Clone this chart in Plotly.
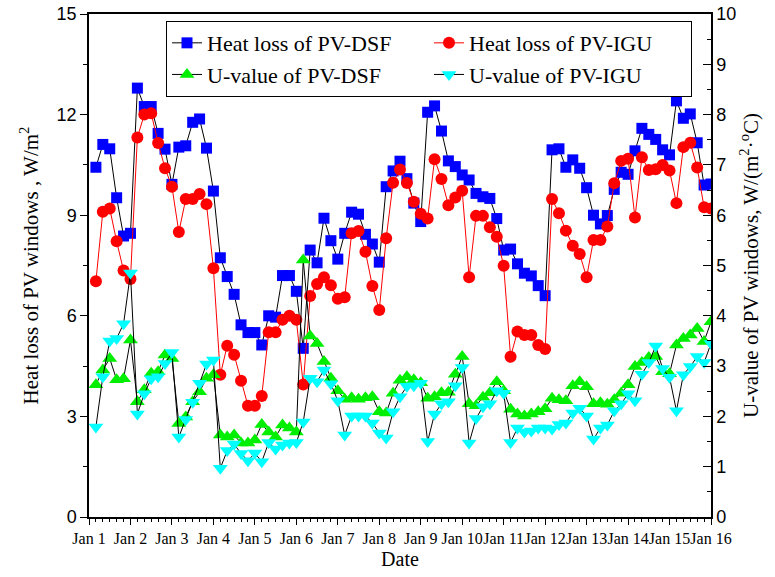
import pandas as pd
import plotly.graph_objects as go

# time stamps: 4-hourly from Jan 1 04:00 to Jan 16 00:00
times = pd.date_range("2000-01-01 04:00", periods=90, freq="4h")

heat_dsf = [10.43, 11.11, 10.98, 9.52, 8.38, 8.46, 12.79, 12.24, 12.24, 11.44,
            10.97, 9.92, 11.03, 11.07, 11.77, 11.87, 11.0, 9.72, 7.73, 7.17,
            6.64, 5.73, 5.50, 5.50, 5.13, 6.0, 5.96, 7.2, 7.2, 6.73,
            5.03, 7.96, 7.58, 8.91, 8.24, 7.69, 8.46, 9.09, 9.03, 8.43,
            8.14, 7.6, 9.85, 10.32, 10.61, 10.09, 9.36, 8.81, 12.07, 12.26,
            11.51, 10.62, 10.45, 10.2, 10.05, 9.65, 9.55, 9.5, 8.9, 7.96,
            7.99, 7.55, 7.27, 7.19, 6.9, 6.6, 10.95, 10.98, 10.43, 10.65,
            10.4, 9.82, 9.0, 8.74, 8.99, 9.77, 10.28, 10.22, 10.92, 11.59,
            11.41, 11.26, 10.95, 10.8, 12.41, 11.89, 12.02, 11.16, 9.9, 9.93]

heat_igu = [7.03, 9.1, 9.2, 8.22, 7.35, 7.1, 11.32, 12.0, 12.04, 11.15,
            10.4, 9.85, 8.5, 9.48, 9.48, 9.63, 9.33, 7.42, 4.24, 5.11,
            4.84, 4.06, 3.32, 3.32, 3.61, 5.51, 5.51, 5.88, 6.0, 5.88,
            3.95, 6.59, 6.95, 7.15, 6.91, 6.51, 6.55, 8.46, 8.53, 7.91,
            6.89, 6.17, 8.31, 9.97, 10.36, 9.96, 9.4, 9.04, 8.9, 10.67,
            10.08, 9.3, 9.53, 9.73, 7.15, 8.98, 8.98, 8.64, 8.36, 7.49,
            4.78, 5.53, 5.43, 5.43, 5.13, 5.01, 9.48, 9.06, 8.54, 8.09,
            7.84, 7.15, 8.26, 8.26, 8.66, 9.95, 10.62, 10.68, 8.93, 10.73,
            10.35, 10.37, 10.5, 10.33, 9.36, 11.03, 11.16, 10.42, 9.24, 9.2]

u_dsf = [2.63, 2.92, 3.15, 2.73, 2.75, 3.52, 2.29, 2.53, 2.86, 2.89,
         3.22, 3.15, 1.86, 1.99, 2.29, 2.49, 2.76, 2.83, 1.63, 1.59,
         1.63, 1.47, 1.47, 1.53, 1.84, 1.69, 1.59, 1.83, 1.77, 1.69,
         5.11, 3.6, 3.45, 3.09, 2.76, 2.51, 2.34, 2.37, 2.34, 2.37,
         2.39, 2.09, 2.07, 2.46, 2.72, 2.79, 2.73, 2.67, 2.36, 2.39,
         2.47, 2.48, 2.84, 3.19, 2.25, 2.21, 2.38, 2.47, 2.69, 2.51,
         2.14, 2.05, 2.01, 2.05, 2.09, 2.15, 2.36, 2.33, 2.31, 2.61,
         2.69, 2.59, 2.25, 2.27, 2.24, 2.33, 2.46, 2.63, 2.99, 3.07,
         3.17, 3.19, 2.89, 2.85, 3.42, 3.55, 3.62, 3.75, 3.49, 3.88]

u_igu = [1.79, 2.79, 3.5, 3.55, 3.84, 4.85, 2.05, 2.45, 2.75, 2.79,
         3.05, 3.27, 1.59, 1.94, 2.28, 2.66, 3.04, 3.12, 0.97, 1.32,
         1.45, 1.26, 1.12, 1.27, 1.1, 1.48, 1.35, 1.43, 1.47, 1.48,
         1.89, 2.76, 2.69, 2.92, 2.65, 2.31, 1.63, 2.01, 2.01, 2.01,
         1.87, 1.67, 1.57, 2.09, 2.39, 2.6, 2.61, 2.66, 1.5, 2.05,
         2.25, 2.29, 2.61, 2.97, 1.47, 1.96, 2.19, 2.25, 2.51, 2.46,
         1.48, 1.77, 1.69, 1.71, 1.77, 1.77, 1.75, 1.84, 1.87, 2.07,
         2.16, 2.01, 1.55, 1.77, 1.83, 2.11, 2.25, 2.45, 2.31, 2.84,
         3.07, 3.4, 2.95, 2.78, 2.11, 2.83, 2.99, 3.19, 3.07, 3.45]

names = ["Heat loss of PV-DSF", "Heat loss of PV-IGU",
         "U-value of PV-DSF", "U-value of PV-IGU"]

serif = "Liberation Serif, Times New Roman, serif"
sans = "Liberation Sans, Arial, sans-serif"

fig = go.Figure()
fig.add_trace(go.Scatter(x=times, y=heat_dsf, name=names[0], mode="lines+markers",
                         line=dict(color="black", width=1),
                         marker=dict(symbol="square", size=11, color="#0000FF", line=dict(width=0))))
fig.add_trace(go.Scatter(x=times, y=heat_igu, name=names[1], mode="lines+markers",
                         line=dict(color="red", width=1),
                         marker=dict(symbol="circle", size=12, color="#FF0000", line=dict(width=0))))
fig.add_trace(go.Scatter(x=times, y=u_dsf, name=names[2], mode="lines+markers", yaxis="y2",
                         line=dict(color="black", width=1),
                         marker=dict(symbol="triangle-up", size=13, color="#00EE00", line=dict(width=0))))
fig.add_trace(go.Scatter(x=times, y=u_igu, name=names[3], mode="lines+markers", yaxis="y2",
                         line=dict(color="black", width=1),
                         marker=dict(symbol="triangle-down", size=13, color="#00FFFF", line=dict(width=0))))

fig.update_layout(
    width=775, height=577,
    margin=dict(l=89, r=64, t=14, b=60, autoexpand=False),
    paper_bgcolor="white", plot_bgcolor="white",
    showlegend=True,
    legend=dict(orientation="h", x=(166 - 89) / 622, y=0.986, xanchor="left", yanchor="top",
                entrywidth=217, entrywidthmode="pixels",
                font=dict(family=serif, size=22, color="black"),
                bordercolor="black", borderwidth=1, bgcolor="white",
                tracegroupgap=0, itemsizing="trace"),
    xaxis=dict(type="date", range=["2000-01-01", "2000-01-16"],
               dtick=86400000, tick0="2000-01-01", tickformat="%b %-d", tickangle=0,
               ticks="outside", ticklen=6, tickwidth=1.2, tickcolor="black",
               minor=dict(dtick=4 * 3600000, ticks="outside", ticklen=3, tickcolor="black"),
               showline=True, linecolor="black", linewidth=1.5, mirror=True,
               showgrid=False, zeroline=False,
               tickfont=dict(family=serif, size=16, color="black"),
               title=dict(text="Date", font=dict(family=serif, size=20, color="black"), standoff=6)),
    yaxis=dict(range=[0, 15], dtick=3, tick0=0,
               ticks="outside", ticklen=7, tickwidth=1.2, tickcolor="black",
               minor=dict(dtick=1.5, ticks="outside", ticklen=4, tickcolor="black"),
               showline=True, linecolor="black", linewidth=1.5,
               showgrid=False, zeroline=False,
               tickfont=dict(family=sans, size=18, color="black"),
               title=dict(text="Heat loss of PV windows , W/m<sup>2</sup>",
                          font=dict(family=serif, size=21, color="black"), standoff=12)),
    yaxis2=dict(range=[0, 10], dtick=1, tick0=0, overlaying="y", side="right",
                ticks="inside", ticklen=8, tickwidth=1.2, tickcolor="black",
                minor=dict(dtick=0.5, ticks="inside", ticklen=4, tickcolor="black"),
                showline=True, linecolor="black", linewidth=1.5,
                showgrid=False, zeroline=False,
                tickfont=dict(family=sans, size=18, color="black"),
                title=dict(text="U-value of PV windows, W/(m<sup>2</sup>·<sup>o</sup>C)",
                           font=dict(family=serif, size=21, color="black"), standoff=8)),
)

fig.write_html("out.html")
